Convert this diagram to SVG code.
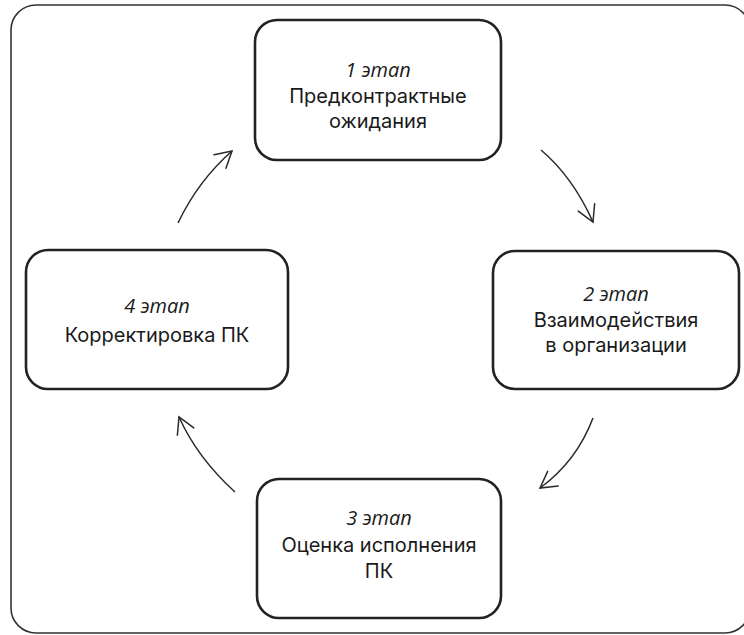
<svg xmlns="http://www.w3.org/2000/svg" width="744" height="635" viewBox="0 0 744 635">
  <style>
    .frame { fill: #ffffff; stroke: #333333; stroke-width: 1.6; }
    .box { fill: #ffffff; stroke: #222222; stroke-width: 2.6; }
    .lbl { font-family: Inter, "Noto Sans", "DejaVu Sans", sans-serif; font-size: 20px; fill: #1a1a1a; text-anchor: middle; }
    .stage { font-family: "Open Sans", "Noto Sans", sans-serif; font-style: italic; font-size: 20px; }
    .conn { fill: none; stroke: #2a2a2a; stroke-width: 1.5; marker-end: url(#head); }
  </style>
  <defs>
    <marker id="head" markerUnits="userSpaceOnUse" markerWidth="40" markerHeight="40" refX="0" refY="0" orient="auto" overflow="visible">
      <path d="M -16 -9 L 0 0 L -16 9" fill="none" stroke="#2a2a2a" stroke-width="1.5" stroke-linecap="round" stroke-linejoin="miter"/>
    </marker>
  </defs>
  <rect class="frame" x="11" y="5" width="739" height="628" rx="25" ry="25"/>

  <g id="stage1">
    <rect class="box" x="255" y="20" width="246" height="140" rx="22" ry="22"/>
    <text class="lbl stage" x="378" y="77">1 этап</text>
    <text class="lbl" x="378" y="103">Предконтрактные</text>
    <text class="lbl" x="378" y="128">ожидания</text>
  </g>

  <g id="stage2">
    <rect class="box" x="493" y="251" width="246" height="138" rx="22" ry="22"/>
    <text class="lbl stage" x="616" y="301">2 этап</text>
    <text class="lbl" x="616" y="327">Взаимодействия</text>
    <text class="lbl" x="616" y="352">в организации</text>
  </g>

  <g id="stage3">
    <rect class="box" x="257" y="479" width="244" height="139" rx="22" ry="22"/>
    <text class="lbl stage" x="379" y="525">3 этап</text>
    <text class="lbl" x="379" y="552">Оценка исполнения</text>
    <text class="lbl" x="379" y="578">ПК</text>
  </g>

  <g id="stage4">
    <rect class="box" x="26" y="250" width="262" height="139" rx="22" ry="22"/>
    <text class="lbl stage" x="157" y="313">4 этап</text>
    <text class="lbl" x="157" y="342">Корректировка ПК</text>
  </g>

  <g id="connectors">
    <path class="conn" d="M 541 150 Q 572.5 176.5 593 222"/>
    <path class="conn" d="M 593 418 Q 576.5 461.5 540 488"/>
    <path class="conn" d="M 235 492 Q 197.5 458 179 417"/>
    <path class="conn" d="M 178 223 Q 198 181 232 151"/>
  </g>
</svg>
